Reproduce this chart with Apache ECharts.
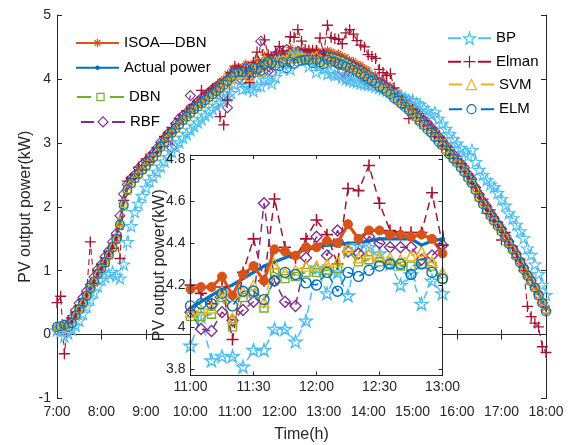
<!DOCTYPE html>
<html><head><meta charset="utf-8">
<script src="https://cdn.jsdelivr.net/npm/echarts@6/dist/echarts.min.js"></script>
<style>html,body{margin:0;padding:0;background:#fff}#c{width:576px;height:445px}</style>
</head><body><div id="c"></div>
<script>
// ---------- DATA (5-minute samples, 7:00 .. 18:00) ----------
const startHour = 7;
const stepMinutes = 5;

const isoaDbn = [
 0.10,0.12,0.12,0.15,0.22,0.28,0.38,0.49,0.61,0.72,0.85,0.94,
 1.04,1.15,1.25,1.40,1.50,1.75,2.10,2.32,2.42,2.47,2.57,2.60,
 2.69,2.73,2.82,2.87,2.99,3.04,3.14,3.18,3.28,3.32,3.41,3.44,
 3.55,3.58,3.65,3.69,3.76,3.80,3.86,3.90,3.96,4.00,4.08,4.12,
 4.18,4.19,4.19,4.24,4.15,4.25,4.29,4.22,4.37,4.36,4.34,4.38,
 4.38,4.41,4.40,4.49,4.42,4.46,4.46,4.44,4.44,4.43,4.44,4.42,
 4.35,4.45,4.43,4.40,4.40,4.36,4.34,4.30,4.28,4.24,4.22,4.17,
 4.14,4.07,4.06,3.99,3.98,3.90,3.89,3.81,3.79,3.71,3.69,3.61,
 3.58,3.49,3.46,3.37,3.34,3.25,3.21,3.11,3.07,2.97,2.93,2.83,
 2.79,2.69,2.64,2.52,2.46,2.31,2.22,2.09,2.03,1.91,1.85,1.74,
 1.68,1.56,1.49,1.36,1.29,1.16,1.08,0.95,0.88,0.75,0.66,0.51,
 0.42];
const actualPower = [
 0.12,0.11,0.13,0.14,0.20,0.30,0.40,0.50,0.62,0.73,0.84,0.95,
 1.05,1.14,1.26,1.38,1.52,1.78,2.08,2.30,2.40,2.48,2.55,2.61,
 2.67,2.74,2.80,2.88,2.97,3.05,3.12,3.19,3.26,3.33,3.39,3.45,
 3.51,3.56,3.61,3.66,3.71,3.76,3.81,3.86,3.91,3.96,4.00,4.05,
 4.09,4.12,4.15,4.18,4.20,4.23,4.26,4.29,4.31,4.33,4.35,4.37,
 4.38,4.39,4.39,4.40,4.40,4.41,4.42,4.42,4.42,4.42,4.39,4.41,
 4.42,4.41,4.40,4.39,4.37,4.35,4.32,4.29,4.26,4.23,4.20,4.16,
 4.12,4.08,4.04,4.00,3.96,3.91,3.87,3.82,3.77,3.72,3.67,3.62,
 3.56,3.50,3.44,3.38,3.32,3.26,3.19,3.12,3.05,2.98,2.91,2.84,
 2.77,2.70,2.62,2.53,2.44,2.32,2.20,2.10,2.01,1.92,1.83,1.75,
 1.66,1.57,1.47,1.37,1.27,1.17,1.06,0.96,0.86,0.76,0.64,0.52,
 0.40];
const dbn = [
 0.11,0.10,0.12,0.13,0.19,0.29,0.41,0.48,0.60,0.71,0.82,0.93,
 1.02,1.12,1.24,1.35,1.48,1.70,2.00,2.25,2.36,2.44,2.50,2.57,
 2.63,2.70,2.77,2.84,2.93,3.00,3.08,3.15,3.22,3.28,3.35,3.40,
 3.46,3.52,3.56,3.61,3.66,3.71,3.75,3.80,3.85,3.90,3.94,3.99,
 4.05,4.05,4.06,4.14,4.00,4.14,4.16,4.09,4.26,4.23,4.24,4.26,
 4.26,4.27,4.28,4.36,4.31,4.32,4.31,4.30,4.29,4.29,4.30,4.29,
 4.23,4.31,4.30,4.28,4.26,4.24,4.21,4.18,4.15,4.12,4.09,4.05,
 4.02,3.98,3.94,3.90,3.86,3.81,3.77,3.72,3.67,3.62,3.58,3.52,
 3.47,3.41,3.35,3.29,3.23,3.17,3.10,3.04,2.97,2.90,2.83,2.76,
 2.70,2.63,2.55,2.46,2.38,2.27,2.15,2.05,1.96,1.87,1.79,1.71,
 1.62,1.53,1.43,1.34,1.24,1.14,1.03,0.93,0.84,0.74,0.62,0.51,
 0.39];
const rbf = [
 0.08,0.10,0.11,0.16,0.26,0.38,0.49,0.58,0.68,0.78,0.90,1.02,
 1.10,1.22,1.31,1.45,1.58,1.86,2.20,2.35,2.44,2.50,2.60,2.66,
 2.71,2.77,2.84,2.92,3.01,3.07,3.15,2.92,3.30,3.38,3.43,3.48,
 3.74,3.58,3.65,3.70,3.73,3.79,3.84,3.88,3.93,3.75,3.55,4.02,
 4.07,3.99,3.98,4.07,4.03,4.08,4.12,4.59,4.22,4.12,4.10,4.33,
 4.43,4.34,4.46,4.36,4.35,4.43,4.40,4.38,4.38,4.38,4.32,4.34,
 4.39,4.33,4.30,4.26,4.22,4.12,4.00,4.10,4.20,4.15,4.05,3.98,
 3.95,3.96,3.97,3.94,3.92,3.88,3.84,3.79,3.74,3.70,3.65,3.60,
 3.55,3.48,3.43,3.36,3.31,3.24,3.18,3.10,3.04,2.96,2.90,2.82,
 2.76,2.68,2.61,2.51,2.43,2.30,2.19,2.08,2.00,1.90,1.82,1.73,
 1.65,1.55,1.46,1.35,1.26,1.15,1.05,0.94,0.85,0.74,0.63,0.50,
 0.38];
const bp = [
 0.07,0.05,-0.03,0.02,0.08,0.14,0.22,0.33,0.44,0.55,0.66,0.76,
 0.86,0.90,0.95,0.98,0.92,0.88,1.10,1.45,1.70,1.92,2.05,2.17,
 2.30,2.40,2.47,2.55,2.63,2.71,2.78,2.86,2.94,3.01,3.08,3.14,
 3.20,3.26,3.32,3.37,3.43,3.48,3.53,3.58,3.63,3.68,3.73,3.78,
 3.91,4.05,3.84,3.86,3.86,3.81,3.89,3.89,3.99,3.99,3.93,4.03,
 4.28,4.16,4.26,4.15,4.39,4.38,4.35,4.30,4.20,4.25,4.11,4.22,
 4.16,4.08,4.10,4.06,4.07,4.02,4.00,3.98,3.96,3.95,3.93,3.92,
 3.91,3.90,3.88,3.86,3.84,3.82,3.80,3.78,3.75,3.73,3.70,3.67,
 3.67,3.62,3.60,3.55,3.50,3.44,3.48,3.38,3.30,3.22,3.14,3.06,
 2.99,2.92,2.85,2.80,2.89,2.70,2.58,2.50,2.42,2.35,2.31,2.22,
 2.12,2.02,1.90,1.82,1.72,1.62,1.51,1.35,1.25,1.10,0.95,0.78,
 0.62];
const elman = [
 0.50,0.60,-0.30,0.22,0.26,0.35,0.45,0.55,0.65,1.45,0.80,1.00,
 1.10,1.20,1.30,1.35,1.55,1.19,2.10,2.40,2.45,2.50,2.62,2.58,
 2.75,2.70,2.85,2.92,2.95,3.10,3.15,3.24,3.22,3.38,3.35,3.50,
 3.48,3.60,3.58,3.82,3.70,3.78,3.85,3.80,3.41,3.28,3.67,4.10,
 4.20,4.16,4.11,4.19,3.94,4.26,4.42,4.22,4.61,4.38,4.33,4.42,
 4.51,4.44,4.30,4.66,4.65,4.77,4.59,4.46,4.45,4.45,4.45,4.64,
 4.39,4.84,4.65,4.63,4.62,4.55,4.72,4.77,4.70,4.60,4.53,4.50,
 4.38,4.35,4.32,4.15,4.10,4.05,4.08,3.86,3.72,3.66,3.55,3.38,
 3.52,3.45,3.30,3.35,3.25,3.20,3.10,3.08,2.95,2.92,2.80,2.78,
 2.70,2.66,2.55,2.48,2.36,2.30,2.15,2.12,1.90,1.95,1.78,1.76,
 1.48,1.60,1.40,1.38,1.20,1.18,1.00,0.44,0.28,0.18,0.12,-0.19,
 -0.28];
const svm = [
 0.13,0.12,0.14,0.15,0.21,0.31,0.42,0.51,0.63,0.74,0.85,0.96,
 1.06,1.15,1.27,1.39,1.52,1.76,2.06,2.29,2.39,2.46,2.53,2.60,
 2.66,2.73,2.79,2.87,2.95,3.03,3.10,3.17,3.24,3.30,3.37,3.42,
 3.48,3.54,3.58,3.63,3.68,3.73,3.77,3.82,3.87,3.92,3.96,4.02,
 4.07,4.08,4.09,4.17,4.04,4.17,4.20,4.12,4.30,4.26,4.27,4.29,
 4.29,4.30,4.31,4.38,4.33,4.35,4.34,4.33,4.32,4.34,4.36,4.31,
 4.26,4.33,4.32,4.30,4.28,4.26,4.23,4.20,4.17,4.14,4.11,4.07,
 4.04,4.00,3.96,3.92,3.88,3.83,3.79,3.74,3.69,3.64,3.60,3.54,
 3.49,3.43,3.37,3.31,3.25,3.19,3.12,3.06,2.99,2.92,2.85,2.78,
 2.72,2.65,2.57,2.48,2.40,2.29,2.17,2.07,1.98,1.89,1.81,1.73,
 1.64,1.55,1.45,1.36,1.26,1.16,1.05,0.95,0.86,0.76,0.64,0.53,
 0.41];
const elm = [
 0.12,0.13,0.15,0.12,0.18,0.30,0.39,0.50,0.61,0.73,0.83,0.95,
 1.04,1.13,1.25,1.37,1.50,1.72,2.03,2.27,2.37,2.45,2.52,2.58,
 2.64,2.72,2.78,2.86,2.94,3.01,3.09,3.16,3.23,3.29,3.36,3.41,
 3.47,3.53,3.57,3.62,3.67,3.72,3.76,3.81,3.86,3.91,3.97,4.03,
 4.10,4.11,4.11,4.16,4.10,4.17,4.17,4.13,4.22,4.26,4.25,4.21,
 4.20,4.26,4.17,4.26,4.24,4.27,4.29,4.30,4.30,4.25,4.30,4.26,
 4.23,4.30,4.27,4.27,4.24,4.22,4.19,4.17,4.14,4.10,4.08,4.04,
 4.00,3.97,3.93,3.88,3.85,3.80,3.76,3.70,3.66,3.61,3.56,3.51,
 3.46,3.40,3.33,3.28,3.21,3.16,3.09,3.02,2.96,2.88,2.82,2.75,
 2.69,2.61,2.54,2.45,2.37,2.26,2.14,2.04,1.95,1.86,1.78,1.70,
 1.61,1.52,1.42,1.33,1.23,1.13,1.02,0.92,0.83,0.73,0.61,0.49,
 0.36];

const mainXTickLabels = ['7:00','8:00','9:00','10:00','11:00','12:00','13:00','14:00','15:00','16:00','17:00','18:00'];
const mainYTicks = [-1, 0, 1, 2, 3, 4, 5];
const insetXTickLabels = ['11:00','11:30','12:00','12:30','13:00'];
const insetYTicks = [3.8, 4, 4.2, 4.4, 4.6, 4.8];

// time (hours) of each sample
const times = isoaDbn.map((_, i) => startHour + i * stepMinutes / 60);

// ---------- STYLE ----------
const FONT = "'Liberation Sans', Arial, Helvetica, sans-serif";
const AX = '#262626';
const STAR = 'path://M50,0L61.23,34.55L97.55,34.55L68.17,55.9L79.39,90.45L50,69.1L20.61,90.45L31.83,55.9L2.45,34.55L38.77,34.55Z';
const PLUS = 'path://M0,50L100,50M50,0L50,100';
const ASTER = 'path://M0,50L100,50M50,0L50,100M15,15L85,85M15,85L85,15';

const looks = [
 {name:'ISOA—DBN', values:isoaDbn, color:'#D95319', dash:'solid',
  main:{symbol:ASTER,size:8,width:1.8,bw:1.1}, inset:{symbol:'circle',size:9,width:3.2,filled:true,bw:1}},
 {name:'Actual power', values:actualPower, color:'#0072BD', dash:'solid',
  main:{symbol:'circle',size:3,width:1.8,filled:true,bw:0}, inset:{symbol:'circle',size:3,width:3.2,filled:true,bw:0}},
 {name:'DBN', values:dbn, color:'#77AC30', dash:'dashed',
  main:{symbol:'rect',size:7,width:1.1,bw:1.1}, inset:{symbol:'rect',size:8,width:1.5,bw:1.4}},
 {name:'RBF', values:rbf, color:'#7E2F8E', dash:'dashed',
  main:{symbol:'diamond',size:10,width:1.1,bw:1.1}, inset:{symbol:'diamond',size:11,width:1.5,bw:1.4}},
 {name:'BP', values:bp, color:'#4DBEEE', dash:'dashed',
  main:{symbol:STAR,size:12,width:1.1,bw:1.1}, inset:{symbol:STAR,size:13,width:1.5,bw:1.4}},
 {name:'Elman', values:elman, color:'#A2142F', dash:'dashed',
  main:{symbol:PLUS,size:11,width:1.1,bw:1.3}, inset:{symbol:PLUS,size:12,width:1.5,bw:1.6}},
 {name:'SVM', values:svm, color:'#EDB120', dash:'dashed',
  main:{symbol:'triangle',size:9,width:1.1,bw:1.1}, inset:{symbol:'triangle',size:10,width:1.5,bw:1.4}},
 {name:'ELM', values:elm, color:'#0072BD', dash:'dashed',
  main:{symbol:'circle',size:9,width:1.1,bw:1.1}, inset:{symbol:'circle',size:10,width:1.5,bw:1.4}}
];

function makeSeries(l, o, inset) {
  const dashPat = l.dash === 'solid' ? 'solid' : (inset ? [8, 5] : [6, 4]);
  return {
    name: l.name, type: 'line',
    data: l.values.map((v, i) => [times[i], v]),
    xAxisIndex: inset ? 1 : 0, yAxisIndex: inset ? 1 : 0,
    symbol: o.symbol, symbolSize: o.size, symbolKeepAspect: true,
    showAllSymbol: true, clip: true, silent: true,
    lineStyle: {color: l.color, width: o.width, type: dashPat},
    itemStyle: {color: o.filled ? l.color : 'rgba(255,255,255,0)', borderColor: l.color, borderWidth: o.bw, opacity: 1},
    emphasis: {disabled: true},
    z: inset ? 10 : 2
  };
}

const series = looks.map(l => makeSeries(l, l.main, false));
[4, 5, 3, 2, 6, 7, 1, 0].forEach(k => series.push(makeSeries(looks[k], looks[k].inset, true)));

// legends (one per entry to place them like the reference)
const legendSpec = [
 {name:'ISOA—DBN', left:75, textY:40.7, w:43, h:10.5, dash:null},
 {name:'Actual power', left:75, textY:62.3, w:43, h:4, dash:null},
 {name:'DBN', left:76, textY:94, w:47, h:9, dash:[14,19]},
 {name:'RBF', left:80, textY:120.7, w:44, h:12.5, dash:[13,18]},
 {name:'BP', left:447, textY:38.3, w:43, h:15, dash:[13,17]},
 {name:'Elman', left:447, textY:61.7, w:43, h:15, dash:[13,17]},
 {name:'SVM', left:448, textY:83.3, w:45, h:12.5, dash:[13,19]},
 {name:'ELM', left:448, textY:107.3, w:45, h:11.25, dash:[13,19]}
];
const legends = legendSpec.map(s => ({
  data: [s.name], left: s.left, top: s.textY - s.h / 2, padding: 0,
  itemWidth: s.w, itemHeight: s.h, selectedMode: false,
  textStyle: {fontFamily: FONT, fontSize: 15, color: '#000'},
  itemStyle: {borderWidth: 1.2},
  lineStyle: s.dash ? {type: s.dash} : {},
  z: 20
}));

const tickCommon = {show: true, inside: true, length: 5, lineStyle: {color: AX, width: 1}};
const lineCommon = {show: true, lineStyle: {color: AX, width: 1}};
const hourFmt = v => mainXTickLabels[Math.round(v - startHour)];
const insetFmt = v => insetXTickLabels[Math.round((v - 11) * 2)];

const option = {
  animation: false,
  backgroundColor: '#fff',
  textStyle: {fontFamily: FONT},
  grid: [
    {left: 57, right: 30, top: 15, bottom: 46.5, outerBoundsMode: 'none', containLabel: false},
    {left: 190.5, top: 155, width: 252, height: 220.5, outerBoundsMode: 'none', containLabel: false}
  ],
  graphic: [{type: 'rect', shape: {x: 190.5, y: 155, width: 252, height: 220.5}, style: {fill: '#fff'}, z: 5, silent: true}],
  legend: legends,
  xAxis: [
    {type: 'value', gridIndex: 0, min: 7, max: 18, interval: 1,
     axisLine: lineCommon, axisTick: tickCommon, splitLine: {show: false},
     axisLabel: {formatter: hourFmt, fontSize: 14, color: AX, margin: 7, fontFamily: FONT, showMinLabel: true, showMaxLabel: true},
     name: 'Time(h)', nameLocation: 'middle', nameGap: 28, nameMoveOverlap: false,
     nameTextStyle: {fontSize: 16, color: AX, fontFamily: FONT}},
    {type: 'value', gridIndex: 1, min: 11, max: 13, interval: 0.5, z: 12,
     axisLine: lineCommon, axisTick: Object.assign({}, tickCommon, {length: 4}), splitLine: {show: false},
     axisLabel: {formatter: insetFmt, fontSize: 14, color: AX, margin: 5, fontFamily: FONT, showMinLabel: true, showMaxLabel: true}},
    {type: 'value', gridIndex: 0, position: 'top', min: 7, max: 18, interval: 1,
     axisLine: lineCommon, axisTick: tickCommon, axisLabel: {show: false}, splitLine: {show: false}},
    {type: 'value', gridIndex: 1, position: 'top', min: 11, max: 13, interval: 0.5, z: 12,
     axisLine: lineCommon, axisTick: Object.assign({}, tickCommon, {length: 4}), axisLabel: {show: false}, splitLine: {show: false}}
  ],
  yAxis: [
    {type: 'value', gridIndex: 0, min: mainYTicks[0], max: mainYTicks[mainYTicks.length - 1], interval: 1,
     axisLine: lineCommon, axisTick: tickCommon, splitLine: {show: false},
     axisLabel: {fontSize: 14, color: AX, margin: 6, fontFamily: FONT},
     name: 'PV output power(kW)', nameLocation: 'middle', nameGap: 23, nameMoveOverlap: false,
     nameTextStyle: {fontSize: 16, color: AX, fontFamily: FONT}},
    {type: 'value', gridIndex: 1, min: 3.768, max: 4.82, z: 12,
     axisLine: lineCommon, splitLine: {show: false},
     axisTick: Object.assign({}, tickCommon, {length: 4, customValues: insetYTicks}),
     axisLabel: {customValues: insetYTicks, formatter: v => String(+(+v).toFixed(1)), fontSize: 14, color: AX, margin: 5, fontFamily: FONT},
     name: 'PV output power(kW)', nameLocation: 'middle', nameGap: 23, nameMoveOverlap: false,
     nameTextStyle: {fontSize: 16, color: AX, fontFamily: FONT}},
    {type: 'value', gridIndex: 0, position: 'right', min: -1, max: 5, interval: 1,
     axisLine: lineCommon, axisTick: tickCommon, axisLabel: {show: false}, splitLine: {show: false}},
    {type: 'value', gridIndex: 1, position: 'right', min: 3.768, max: 4.82, z: 12,
     axisLine: lineCommon, splitLine: {show: false}, axisLabel: {show: false},
     axisTick: Object.assign({}, tickCommon, {length: 4, customValues: insetYTicks})}
  ],
  series: series
};

const chart = echarts.init(document.getElementById('c'), null, {renderer: 'canvas'});
chart.setOption(option);
</script>
</body></html>
